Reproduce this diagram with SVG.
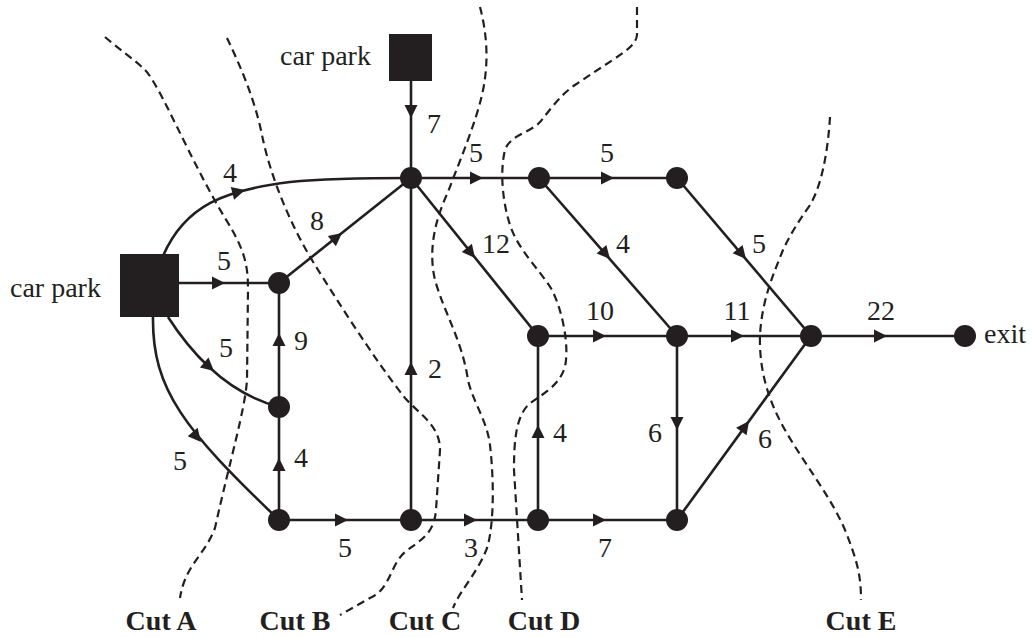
<svg xmlns="http://www.w3.org/2000/svg" xmlns:xlink="http://www.w3.org/1999/xlink" width="1032" height="637" viewBox="0 0 1032 637">
<style>
.e{fill:none;stroke:#231f20;stroke-width:2.6}
.cut{fill:none;stroke:#231f20;stroke-width:2.2;stroke-dasharray:8,5}
.n{fill:#231f20}
.t{font-family:"Liberation Serif","Times New Roman",serif;font-size:28px;fill:#231f20}
.l{font-family:"Liberation Serif","Times New Roman",serif;font-size:28px;fill:#231f20;text-anchor:middle}
.c{font-family:"Liberation Serif","Times New Roman",serif;font-size:28px;font-weight:bold;fill:#231f20;text-anchor:middle}
</style>
<defs>
<path id="ah" d="M0,0 L-13,-6.5 L-13,6.5 Z" fill="#231f20"/>
</defs>
<rect width="1032" height="637" fill="#fff"/>
<g id="cuts">
<path class="cut" d="M105,37 C120,50 135,60 145,70 C160,85 190,160 225,218 C245,250 248,265 248,290 L247,380 C245,410 230,460 215,528 C205,555 185,565 180,598"/>
<path class="cut" d="M227,38 C240,65 255,100 262,135 C270,175 290,225 315,265 C340,305 375,360 405,398 C420,415 440,425 440,450 L436,510 C434,535 420,540 405,552 C390,565 390,590 370,598 L340,615"/>
<path class="cut" d="M480,7 C486,30 490,60 482,95 C475,125 460,160 448,192 C435,220 428,250 435,280 C445,315 462,340 468,380 C472,400 487,420 490,445 C494,480 494,520 488,545 C480,570 460,590 453,608"/>
<path class="cut" d="M637,7 L637,35 C636,45 625,52 605,65 L575,85 C560,95 550,110 540,122 C530,133 510,135 505,150 C500,170 502,200 510,225 C518,250 540,270 552,290 C562,310 568,340 566,360 C564,385 540,395 528,405 C516,418 514,440 514,470 L522,600"/>
<path class="cut" d="M830,117 C828,150 822,185 810,205 C798,222 790,235 783,250 C773,275 762,300 760,335 C759,370 768,400 785,430 C805,465 830,495 845,530 C857,560 861,575 861,600"/>
<text class="c" x="161" y="630">Cut A</text>
<text class="c" x="295" y="630">Cut B</text>
<text class="c" x="425" y="630">Cut C</text>
<text class="c" x="544" y="630">Cut D</text>
<text class="c" x="861" y="630">Cut E</text>
</g>
<g id="connectors">
<line class="e" x1="411" y1="80" x2="411" y2="178"/>
<line class="e" x1="411" y1="178" x2="677" y2="178"/>
<line class="e" x1="538" y1="336" x2="965" y2="336"/>
<line class="e" x1="279" y1="520" x2="677" y2="520"/>
<line class="e" x1="179" y1="283" x2="279" y2="283"/>
<line class="e" x1="411" y1="178" x2="411" y2="520"/>
<line class="e" x1="279" y1="283" x2="279" y2="520"/>
<line class="e" x1="538" y1="336" x2="538" y2="520"/>
<line class="e" x1="677" y1="336" x2="677" y2="520"/>
<line class="e" x1="279" y1="283" x2="411" y2="178"/>
<line class="e" x1="411" y1="178" x2="538" y2="336"/>
<line class="e" x1="539" y1="178" x2="677" y2="336"/>
<line class="e" x1="677" y1="178" x2="811" y2="336"/>
<line class="e" x1="677" y1="520" x2="811" y2="336"/>
<path class="e" d="M163,256 C185,205 225,190 290,182 C330,178 370,178 411,178"/>
<path class="e" d="M168,317 Q215,390 279,407"/>
<path class="e" d="M153,317 C152,390 185,430 279,520"/>
<use xlink:href="#ah" href="#ah" transform="translate(411,118) rotate(90)"/>
<use xlink:href="#ah" href="#ah" transform="translate(483,178)"/>
<use xlink:href="#ah" href="#ah" transform="translate(614,178)"/>
<use xlink:href="#ah" href="#ah" transform="translate(606,336)"/>
<use xlink:href="#ah" href="#ah" transform="translate(744,336)"/>
<use xlink:href="#ah" href="#ah" transform="translate(887,336)"/>
<use xlink:href="#ah" href="#ah" transform="translate(606,520)"/>
<use xlink:href="#ah" href="#ah" transform="translate(477,520)"/>
<use xlink:href="#ah" href="#ah" transform="translate(348,520)"/>
<use xlink:href="#ah" href="#ah" transform="translate(225,283)"/>
<use xlink:href="#ah" href="#ah" transform="translate(411,362) rotate(-90)"/>
<use xlink:href="#ah" href="#ah" transform="translate(279,458) rotate(-90)"/>
<use xlink:href="#ah" href="#ah" transform="translate(279,333) rotate(-90)"/>
<use xlink:href="#ah" href="#ah" transform="translate(538,425) rotate(-90)"/>
<use xlink:href="#ah" href="#ah" transform="translate(677,430) rotate(90)"/>
<use xlink:href="#ah" href="#ah" transform="translate(342,233) rotate(-38.5)"/>
<use xlink:href="#ah" href="#ah" transform="translate(475,258) rotate(51.2)"/>
<use xlink:href="#ah" href="#ah" transform="translate(610,259) rotate(48.9)"/>
<use xlink:href="#ah" href="#ah" transform="translate(746,259) rotate(49.7)"/>
<use xlink:href="#ah" href="#ah" transform="translate(749,421) rotate(-53.9)"/>
<use xlink:href="#ah" href="#ah" transform="translate(245,190) rotate(-15)"/>
<use xlink:href="#ah" href="#ah" transform="translate(214,371) rotate(41)"/>
<use xlink:href="#ah" href="#ah" transform="translate(201,442) rotate(50)"/>
<text class="l" x="434" y="133">7</text>
<text class="l" x="476" y="162">5</text>
<text class="l" x="607" y="162">5</text>
<text class="l" x="230" y="182">4</text>
<text class="l" x="317" y="230">8</text>
<text class="l" x="224" y="270">5</text>
<text class="l" x="496" y="253">12</text>
<text class="l" x="623" y="253">4</text>
<text class="l" x="759" y="253">5</text>
<text class="l" x="600" y="320">10</text>
<text class="l" x="737" y="320">11</text>
<text class="l" x="881" y="320">22</text>
<text class="l" x="301" y="350">9</text>
<text class="l" x="435" y="378">2</text>
<text class="l" x="301" y="467">4</text>
<text class="l" x="226" y="357">5</text>
<text class="l" x="180" y="470">5</text>
<text class="l" x="345" y="557">5</text>
<text class="l" x="471" y="557">3</text>
<text class="l" x="560" y="442">4</text>
<text class="l" x="655" y="442">6</text>
<text class="l" x="765" y="448">6</text>
<text class="l" x="605" y="557">7</text>
</g>
<g id="carpark-left"><rect class="n" x="120" y="254" width="59" height="63"/><text class="t" x="10" y="297">car park</text></g>
<g id="carpark-top"><rect class="n" x="389" y="34" width="43" height="47"/><text class="t" x="280" y="65">car park</text></g>
<g id="n1"><circle class="n" cx="411" cy="178" r="11"/></g>
<g id="n2"><circle class="n" cx="279" cy="283" r="11"/></g>
<g id="n3"><circle class="n" cx="279" cy="407" r="11"/></g>
<g id="n4"><circle class="n" cx="279" cy="520" r="11"/></g>
<g id="n5"><circle class="n" cx="411" cy="520" r="11"/></g>
<g id="n6"><circle class="n" cx="539" cy="178" r="11"/></g>
<g id="n7"><circle class="n" cx="677" cy="178" r="11"/></g>
<g id="n8"><circle class="n" cx="538" cy="336" r="11"/></g>
<g id="n9"><circle class="n" cx="677" cy="336" r="11"/></g>
<g id="n10"><circle class="n" cx="811" cy="336" r="11"/></g>
<g id="n11"><circle class="n" cx="538" cy="520" r="11"/></g>
<g id="n12"><circle class="n" cx="677" cy="520" r="11"/></g>
<g id="exit"><circle class="n" cx="965" cy="336" r="11"/><text class="t" x="984" y="343">exit</text></g>
</svg>
